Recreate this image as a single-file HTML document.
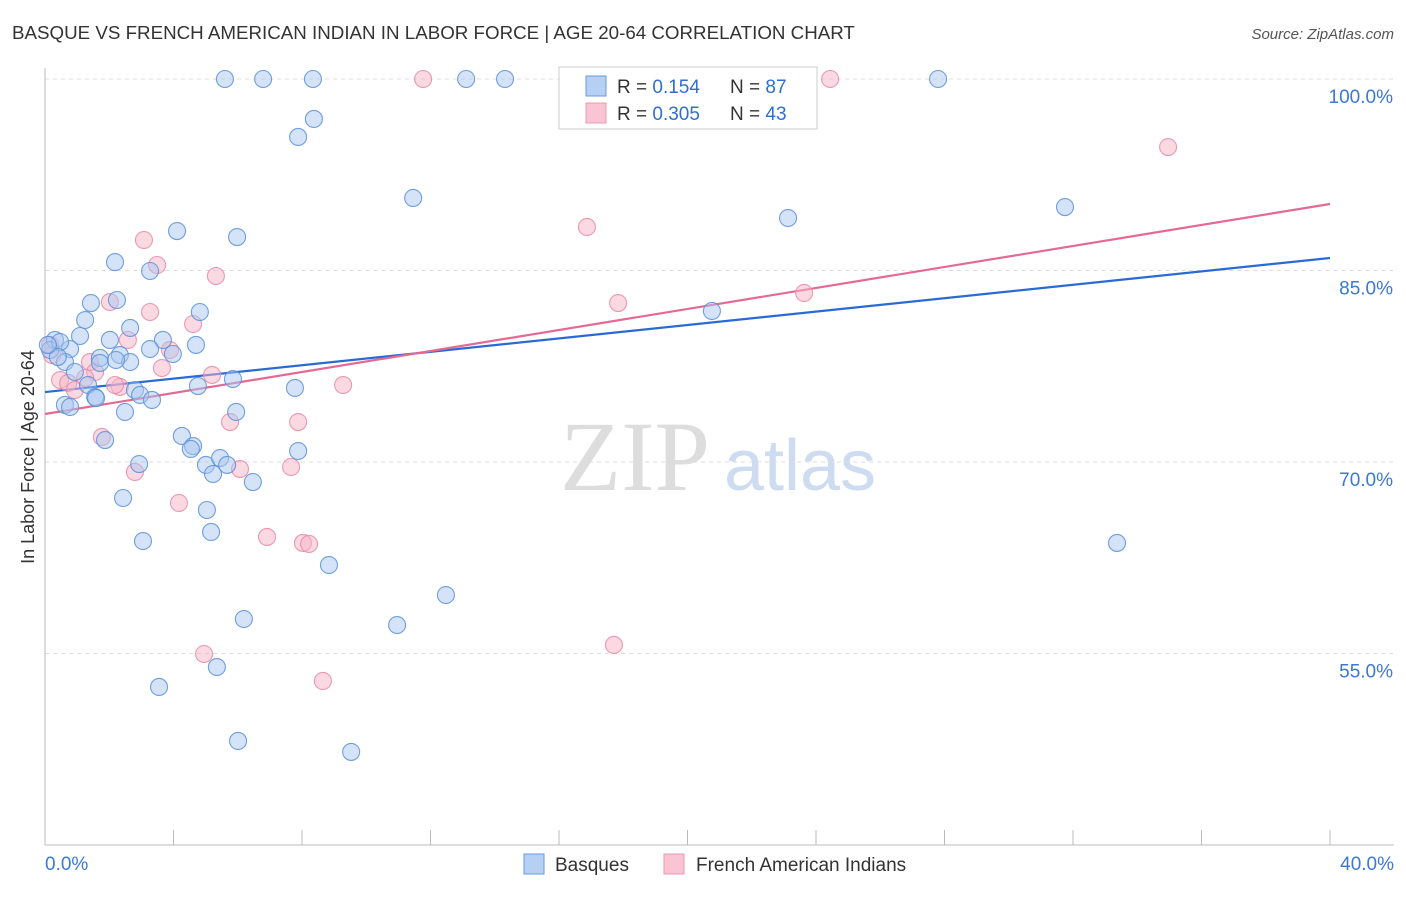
<!DOCTYPE html>
<html><head><meta charset="utf-8"><style>
body{margin:0;background:#fff;font-family:"Liberation Sans",sans-serif;}
svg text{font-family:"Liberation Sans",sans-serif;}
</style></head><body>
<svg id="chart" width="1406" height="892" xmlns="http://www.w3.org/2000/svg">
<text x="12" y="39" font-size="18.75" fill="#333">BASQUE VS FRENCH AMERICAN INDIAN IN LABOR FORCE | AGE 20-64 CORRELATION CHART</text>
<text x="1394" y="39" font-size="15" fill="#555" text-anchor="end" font-style="italic">Source: ZipAtlas.com</text>
<g>
<text x="635" y="490" font-size="100" fill="#ddd" text-anchor="middle" style="font-family:'Liberation Serif',serif">ZIP</text>
<text x="800" y="490" font-size="72" fill="#cddcf0" text-anchor="middle">atlas</text>
</g>
<g id="grid"></g><g id="axes"></g><g id="trends"></g><g id="points"></g>
<text transform="translate(34,457) rotate(-90)" font-size="18" fill="#333" text-anchor="middle">In Labor Force | Age 20-64</text>
<g>
<rect x="559" y="67" width="258" height="62" fill="#fff" stroke="#ccc"/>
<rect x="586" y="76" width="20" height="20" fill="#b6d0f3" stroke="#6b9ae0"/>
<rect x="586" y="103" width="20" height="20" fill="#f9c4d4" stroke="#e99ab4"/>
<text x="617" y="93" font-size="19" fill="#333">R = <tspan fill="#2f6fd0">0.154</tspan></text>
<text x="730" y="93" font-size="19" fill="#333">N = <tspan fill="#2f6fd0">87</tspan></text>
<text x="617" y="120" font-size="19" fill="#333">R = <tspan fill="#2f6fd0">0.305</tspan></text>
<text x="730" y="120" font-size="19" fill="#333">N = <tspan fill="#2f6fd0">43</tspan></text>
</g>
<g>
<rect x="524" y="854" width="20" height="20" fill="#b6d0f3" stroke="#6b9ae0"/>
<text x="555" y="871" font-size="19" fill="#333">Basques</text>
<rect x="664" y="854" width="20" height="20" fill="#f9c4d4" stroke="#e99ab4"/>
<text x="696" y="871" font-size="19" fill="#333">French American Indians</text>
</g>
</svg>
<script>
const yTicks=[100,85,70,55];
const yTickLabels=["100.0%","85.0%","70.0%","55.0%"];
const xTickVals=[0,4,8,12,16,20,24,28,32,36,40];
const xEndLabels=["0.0%","40.0%"];
const basqueX=[5.60,6.79,8.34,13.11,14.32,27.80,8.37,7.88,11.46,23.13,31.75,4.11,5.98,2.18,3.27,2.24,1.43,4.82,1.25,20.76,2.65,1.09,3.67,2.02,4.70,3.27,3.98,2.33,1.71,0.78,0.31,0.16,0.47,0.62,0.93,1.34,1.71,2.65,2.21,5.85,4.76,7.78,2.80,1.56,2.96,3.33,0.62,0.78,2.49,5.95,4.26,4.61,1.87,4.54,7.88,2.93,5.01,5.45,5.23,5.67,6.47,2.43,5.04,5.17,3.05,8.84,33.37,12.48,6.19,10.96,5.35,3.55,6.01,9.53,1.59,0.40,0.09];
const basqueY=[100,100,100,100,100,100,96.87,95.46,90.68,89.11,89.97,88.09,87.62,85.66,84.96,82.69,82.45,81.75,81.12,81.83,80.50,79.87,79.56,79.56,79.17,78.85,78.46,78.38,78.15,78.85,79.56,78.77,79.40,77.83,77.05,76.03,77.76,77.83,77.99,76.50,75.95,75.80,75.64,75.09,75.25,74.86,74.47,74.31,73.92,73.92,72.04,71.25,71.72,71.02,70.86,69.84,69.77,70.31,69.06,69.77,68.43,67.18,66.24,64.52,63.81,61.93,63.66,59.58,57.70,57.23,53.94,52.38,48.15,47.29,75.01,78.23,79.17];
const frenchX=[11.77,24.44,34.96,16.87,3.08,3.49,5.32,17.84,23.63,2.02,3.27,4.61,2.58,3.89,0.16,3.64,5.20,1.40,1.56,0.47,2.33,0.72,9.28,0.93,1.77,5.76,7.88,2.80,6.07,7.66,4.17,6.91,8.03,8.22,17.71,4.95,8.65,1.25,2.18,0.22];
const frenchY=[100,100,94.67,88.41,87.39,85.43,84.57,82.45,83.24,82.53,81.75,80.81,79.56,78.77,79.17,77.36,76.82,77.83,77.05,76.42,75.88,76.19,76.03,75.64,71.96,73.13,73.13,69.22,69.45,69.61,66.79,64.13,63.66,63.58,55.67,54.96,52.85,76.58,76.03,78.38];
const basqueTrend=[75.48,85.98];
const frenchTrend=[73.76,90.21];
const NS="http://www.w3.org/2000/svg";
function sx(v){return 45+v/40*1285;}
function sy(v){return 79+(100-v)/15*191.5;}
function mk(tag,attrs,parent){const e=document.createElementNS(NS,tag);for(const k in attrs)e.setAttribute(k,attrs[k]);document.getElementById(parent).appendChild(e);return e;}
yTicks.forEach((t,i)=>{
 const l=mk('line',{x1:45,x2:1394,y1:sy(t),y2:sy(t),stroke:'#ddd','stroke-dasharray':'4,4'},'grid');
 
 
 const tx=mk('text',{x:1393,y:sy(t)+24,'font-size':19,fill:'#3b78d8','text-anchor':'end'},'grid');
 tx.textContent=yTickLabels[i];
 
 
});
const ax=mk('line',{x1:45,x2:45,y1:68,y2:845,stroke:'#bbb'},'axes');


const bx=mk('line',{x1:45,x2:1394,y1:845,y2:845,stroke:'#bbb'},'axes');


xTickVals.forEach(v=>{
 const t=mk('line',{x1:sx(v),x2:sx(v),y1:830,y2:845,stroke:'#bbb'},'axes');
 
 
});
[[0,'start',45],[40,'end',1394]].forEach((p,i)=>{
 const t=mk('text',{x:p[2],y:870,'font-size':19,fill:'#3b78d8','text-anchor':p[1]},'axes');
 t.textContent=xEndLabels[i];
 
 
});
function dots(xs,ys,fill,stroke,name){
 xs.forEach((x,i)=>{
  const c=mk('circle',{cx:sx(x),cy:sy(ys[i]),r:8.5,fill:fill,'fill-opacity':0.5,stroke:stroke,'stroke-width':1.1,'stroke-opacity':0.85},'points');
  
  
 });
}
dots(frenchX,frenchY,'#f6b3c7','#e88aa8','french-point');
dots(basqueX,basqueY,'#a9c8f0','#5b8fd9','basque-point');
const lb=mk('line',{x1:sx(0),y1:sy(basqueTrend[0]),x2:sx(40),y2:sy(basqueTrend[1]),stroke:'#2a6ad6','stroke-width':2.2},'trends');


const lf=mk('line',{x1:sx(0),y1:sy(frenchTrend[0]),x2:sx(40),y2:sy(frenchTrend[1]),stroke:'#e46a94','stroke-width':2.2},'trends');


</script>
</body></html>
